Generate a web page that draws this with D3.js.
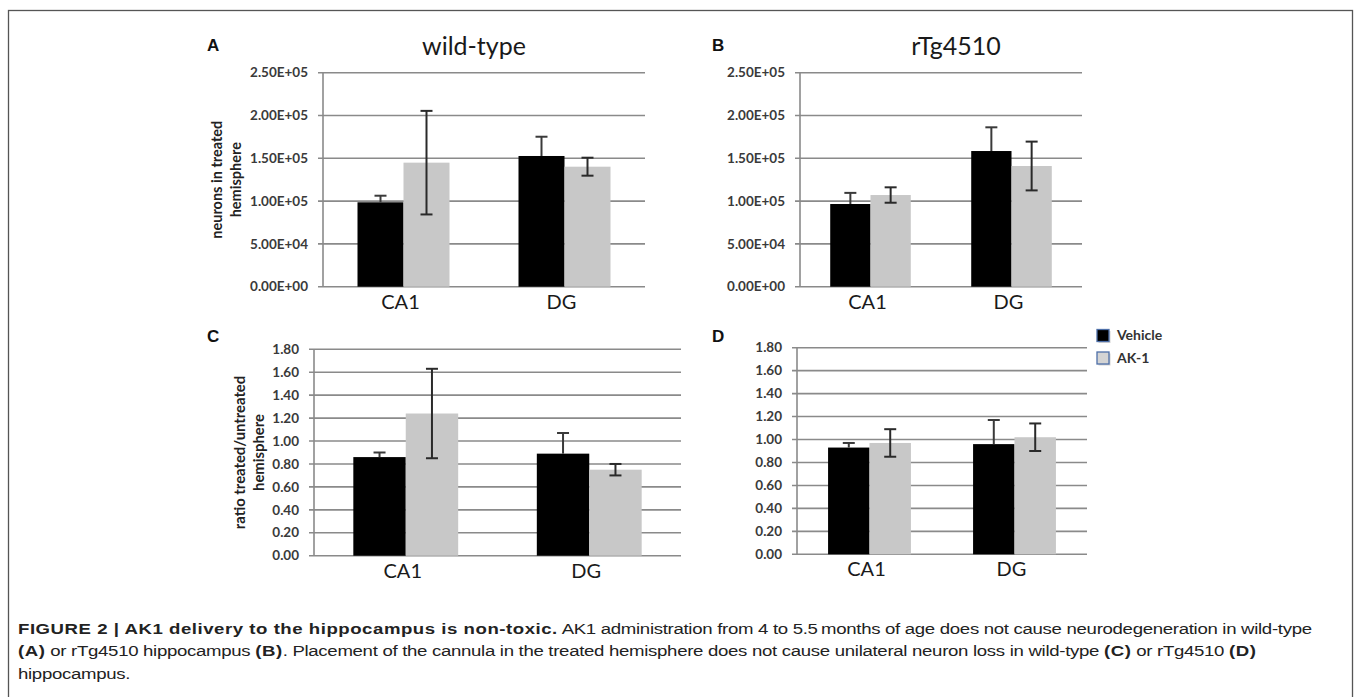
<!DOCTYPE html>
<html>
<head>
<meta charset="utf-8">
<script src="https://cdn.jsdelivr.net/npm/d3@7"></script>
<style>
  body { margin: 0; background: #fff; }
  svg { display: block; }
</style>
</head>
<body>
<svg id="fig" width="1354" height="697"></svg>
<script>
// categories and series
const categories = ["CA1", "DG"];
const seriesNames = ["Vehicle", "AK-1"];
const seriesColors = ["#000000", "#c8c8c8"];

// A: wild-type, neurons in treated hemisphere
const wtVehicle = [98600, 152700];
const wtVehicleErr = [7700, 22500];
const wtAK1 = [144900, 140200];
const wtAK1Err = [60500, 10500];

// B: rTg4510, neurons in treated hemisphere
const tgVehicle = [96600, 158500];
const tgVehicleErr = [13000, 27700];
const tgAK1 = [107100, 141000];
const tgAK1Err = [9000, 28500];

// C: wild-type, ratio treated/untreated
const wtRatioVehicle = [0.86, 0.89];
const wtRatioVehicleErr = [0.04, 0.18];
const wtRatioAK1 = [1.24, 0.75];
const wtRatioAK1Err = [0.39, 0.05];

// D: rTg4510, ratio treated/untreated
const tgRatioVehicle = [0.93, 0.96];
const tgRatioVehicleErr = [0.04, 0.21];
const tgRatioAK1 = [0.97, 1.02];
const tgRatioAK1Err = [0.12, 0.12];

// tick values
const neuronTicks = [0, 50000, 100000, 150000, 200000, 250000];
const ratioTicks = [0, 0.2, 0.4, 0.6, 0.8, 1.0, 1.2, 1.4, 1.6, 1.8];

const svg = d3.select("#fig");
const chartFont = "Lato, 'Open Sans', sans-serif";

// figure frame
svg.append("rect")
    .attr("x", 8.5).attr("y", 10.5)
    .attr("width", 1344).attr("height", 700)
    .attr("fill", "none")
    .attr("stroke", "#555")
    .attr("stroke-width", 1.3);

function sciFormat(d) {
    const parts = d.toExponential(2).split("e");
    const e = +parts[1];
    const sign = e < 0 ? "-" : "+";
    return parts[0] + "E" + sign + String(Math.abs(e)).padStart(2, "0");
}

function drawPanel(opt) {
    const g = svg.append("g");

    const y = d3.scaleLinear()
        .domain([0, opt.ticks[opt.ticks.length - 1]])
        .range([opt.yBottom, opt.yTop]);

    const x0 = d3.scaleBand()
        .domain(categories)
        .range([opt.x0, opt.x1]);

    // Excel style gap width ~150%
    const clusterW = x0.bandwidth() / 1.75;
    const x1 = d3.scaleBand()
        .domain(seriesNames)
        .range([0, clusterW]);

    // grid lines
    g.append("g")
        .selectAll("line")
        .data(opt.ticks)
        .join("line")
        .attr("x1", opt.x0 - 5)
        .attr("x2", opt.x1)
        .attr("y1", d => y(d))
        .attr("y2", d => y(d))
        .attr("stroke", "#8a8a8a")
        .attr("stroke-width", 1.6);

    // y axis line
    g.append("line")
        .attr("x1", opt.x0).attr("x2", opt.x0)
        .attr("y1", opt.yTop).attr("y2", opt.yBottom)
        .attr("stroke", "#8a8a8a")
        .attr("stroke-width", 1.6);

    // tick labels
    g.append("g")
        .selectAll("text")
        .data(opt.ticks)
        .join("text")
        .attr("x", opt.x0 - 15)
        .attr("y", d => y(d))
        .attr("dy", "0.35em")
        .attr("text-anchor", "end")
        .attr("font-family", chartFont)
        .attr("font-weight", "bold")
        .attr("font-size", 13.5)
        .attr("fill", "#3a3a3a")
        .text(opt.format);

    // bars
    const rows = [];
    categories.forEach((c, i) => {
        opt.series.forEach((s, j) => {
            rows.push({cat: c, name: seriesNames[j], value: s.values[i], err: s.errs[i], color: seriesColors[j]});
        });
    });

    const barX = d => x0(d.cat) + (x0.bandwidth() - clusterW) / 2 + x1(d.name);
    const midX = d => barX(d) + x1.bandwidth() / 2;

    g.append("g")
        .selectAll("rect")
        .data(rows)
        .join("rect")
        .attr("x", barX)
        .attr("width", x1.bandwidth())
        .attr("y", d => y(d.value))
        .attr("height", d => y(0) - y(d.value))
        .attr("fill", d => d.color);

    // error bars
    const eb = g.append("g")
        .selectAll("g")
        .data(rows)
        .join("g")
        .attr("stroke", d => d.color === "#000000" ? "#3a3a3a" : "#2a2a2a")
        .attr("stroke-width", 2);
    eb.append("line")
        .attr("x1", midX)
        .attr("x2", midX)
        .attr("y1", d => y(d.value + d.err))
        .attr("y2", d => d.color === "#000000" ? y(d.value) : y(d.value - d.err));
    eb.append("line")
        .attr("x1", d => midX(d) - 6)
        .attr("x2", d => midX(d) + 6)
        .attr("y1", d => y(d.value + d.err))
        .attr("y2", d => y(d.value + d.err));
    eb.filter(d => d.color !== "#000000")
        .append("line")
        .attr("x1", d => midX(d) - 6)
        .attr("x2", d => midX(d) + 6)
        .attr("y1", d => y(d.value - d.err))
        .attr("y2", d => y(d.value - d.err));

    // category labels
    g.append("g")
        .selectAll("text")
        .data(categories)
        .join("text")
        .attr("x", d => x0(d) + x0.bandwidth() / 2 - 3)
        .attr("y", opt.yBottom + 22)
        .attr("text-anchor", "middle")
        .attr("font-family", chartFont)
        .attr("font-size", 20)
        .attr("fill", "#1a1a1a")
        .text(d => d);

    // panel letter
    g.append("text")
        .attr("x", opt.letterX)
        .attr("y", opt.letterY)
        .attr("font-family", "Liberation Sans, Arial, sans-serif")
        .attr("font-weight", "bold")
        .attr("font-size", 17)
        .attr("fill", "#111")
        .text(opt.letter);

    if (opt.title) {
        g.append("text")
            .attr("x", opt.titleX)
            .attr("y", 55)
            .attr("text-anchor", "middle")
            .attr("font-family", chartFont)
            .attr("font-size", 25)
            .attr("fill", "#1a1a1a")
            .text(opt.title);
    }

    if (opt.yTitle) {
        const cy = (opt.yTop + opt.yBottom) / 2;
        const t = g.append("text")
            .attr("transform", `translate(${opt.yTitleX},${cy}) rotate(-90)`)
            .attr("text-anchor", "middle")
            .attr("font-family", chartFont)
            .attr("font-weight", "bold")
            .attr("font-size", opt.yTitleSize)
            .attr("fill", "#222");
        opt.yTitle.forEach((line, i) => {
            t.append("tspan")
                .attr("x", 0)
                .attr("dy", i === 0 ? 0 : 18.5)
                .text(line);
        });
    }
}

drawPanel({
    letter: "A", letterX: 207, letterY: 51,
    title: "wild-type", titleX: 474,
    x0: 323, x1: 645, yTop: 72.7, yBottom: 286.7,
    ticks: neuronTicks, format: sciFormat,
    yTitle: ["neurons in treated", "hemisphere"], yTitleX: 222, yTitleSize: 14.5,
    series: [{values: wtVehicle, errs: wtVehicleErr}, {values: wtAK1, errs: wtAK1Err}]
});

drawPanel({
    letter: "B", letterX: 712, letterY: 51,
    title: "rTg4510", titleX: 956,
    x0: 800, x1: 1082, yTop: 72.7, yBottom: 286.7,
    ticks: neuronTicks, format: sciFormat,
    series: [{values: tgVehicle, errs: tgVehicleErr}, {values: tgAK1, errs: tgAK1Err}]
});

drawPanel({
    letter: "C", letterX: 207, letterY: 342,
    x0: 314, x1: 681, yTop: 349.3, yBottom: 555.7,
    ticks: ratioTicks, format: d3.format(".2f"),
    yTitle: ["ratio treated/untreated", "hemisphere"], yTitleX: 245, yTitleSize: 14.8,
    series: [{values: wtRatioVehicle, errs: wtRatioVehicleErr}, {values: wtRatioAK1, errs: wtRatioAK1Err}]
});

drawPanel({
    letter: "D", letterX: 712, letterY: 342,
    x0: 797, x1: 1087, yTop: 347.7, yBottom: 554.3,
    ticks: ratioTicks, format: d3.format(".2f"),
    series: [{values: tgRatioVehicle, errs: tgRatioVehicleErr}, {values: tgRatioAK1, errs: tgRatioAK1Err}]
});

// legend (panel D)
const legend = svg.append("g")
    .selectAll("g")
    .data(seriesNames)
    .join("g")
    .attr("transform", (d, i) => `translate(1097,${329.5 + i * 22.5})`);
legend.append("rect")
    .attr("x", 1.5).attr("y", 1.5)
    .attr("width", 12).attr("height", 12)
    .attr("fill", "#aaa")
    .attr("opacity", 0.5);
legend.append("rect")
    .attr("width", 12).attr("height", 12)
    .attr("fill", (d, i) => seriesColors[i] === "#000000" ? "#000" : "#d4d4d4")
    .attr("stroke", "#4d6fa8")
    .attr("stroke-width", 1.3);
legend.append("text")
    .attr("x", 20)
    .attr("y", 6)
    .attr("dy", "0.35em")
    .attr("font-family", chartFont)
    .attr("font-weight", "bold")
    .attr("font-size", 14)
    .attr("fill", "#333")
    .text(d => d);

// caption
const captionLines = [
    [["FIGURE 2 | AK1 delivery to the hippocampus is non-toxic.", true],
     [" AK1 administration from 4 to 5.5\u2009months of age does not cause neurodegeneration in wild-type", false]],
    [["(A)", true], [" or rTg4510 hippocampus ", false], ["(B)", true],
     [". Placement of the cannula in the treated hemisphere does not cause unilateral neuron loss in wild-type ", false],
     ["(C)", true], [" or rTg4510 ", false], ["(D)", true]],
    [["hippocampus.", false]]
];
const caption = svg.append("text")
    .attr("transform", "translate(18,0) scale(1.2,1)")
    .attr("font-family", "Liberation Sans, Arial, Helvetica, sans-serif")
    .attr("font-size", 15.5)
    .attr("fill", "#222");
captionLines.forEach((line, i) => {
    line.forEach((seg, j) => {
        const ts = caption.append("tspan")
            .attr("font-weight", seg[1] ? "bold" : "normal")
            .attr("letter-spacing", seg[1] ? 0.45 : -0.25)
            .text(seg[0]);
        if (j === 0) ts.attr("x", 0).attr("y", 634 + i * 22.3);
    });
});
</script>
</body>
</html>
